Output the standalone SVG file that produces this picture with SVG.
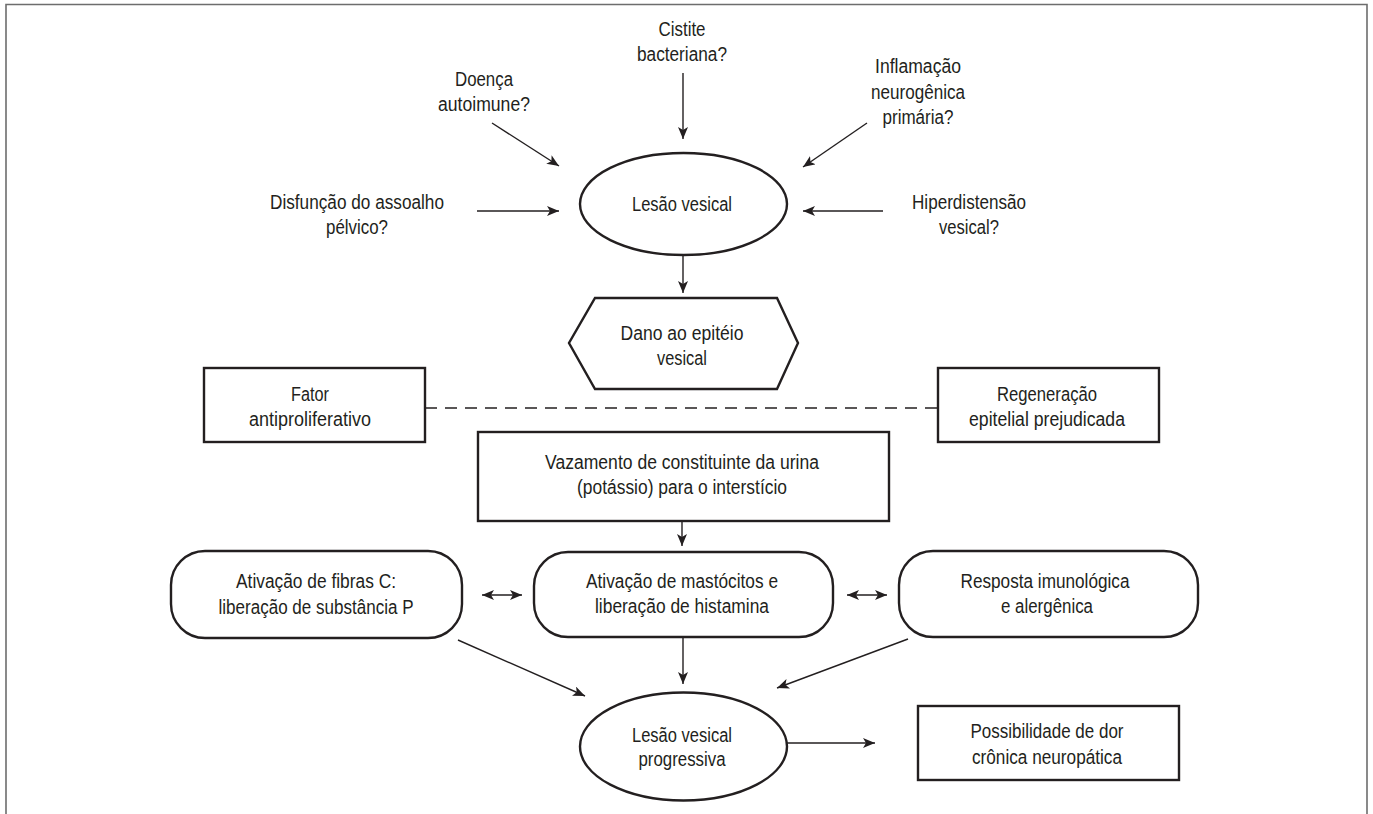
<svg xmlns="http://www.w3.org/2000/svg" width="1373" height="814" viewBox="0 0 1373 814">
<style>
text{font-family:"Liberation Sans",Arial,sans-serif;font-size:20px;fill:#231f20;text-anchor:middle}
.box{fill:#fff;stroke:#231f20;stroke-width:2.4}
.ln{fill:none;stroke:#231f20;stroke-width:1.4}
.dash{fill:none;stroke:#231f20;stroke-width:1.4;stroke-dasharray:12 8}
</style>
<defs>
<marker id="ah" viewBox="0 0 12 10" refX="12" refY="5" markerWidth="12" markerHeight="10" markerUnits="userSpaceOnUse" orient="auto-start-reverse">
<path d="M0,0 L12,5 L0,10 L3,5 z" fill="#231f20"/>
</marker>
</defs>
<rect width="1373" height="814" fill="#fff"/>
<path d="M6,814 V4.5 H1367 V814" fill="none" stroke="#6d6d6d" stroke-width="1.6"/>

<g id="connectors">
<line class="ln" x1="683" y1="73" x2="683" y2="139" marker-end="url(#ah)"/>
<line class="ln" x1="492" y1="123" x2="559" y2="166" marker-end="url(#ah)"/>
<line class="ln" x1="867" y1="123" x2="803" y2="167" marker-end="url(#ah)"/>
<line class="ln" x1="477" y1="211" x2="559" y2="211" marker-end="url(#ah)"/>
<line class="ln" x1="883" y1="211" x2="803" y2="211" marker-end="url(#ah)"/>
<line class="ln" x1="683" y1="255" x2="683" y2="293" marker-end="url(#ah)"/>
<line class="dash" x1="425" y1="408" x2="938" y2="408"/>
<line class="ln" x1="682" y1="521" x2="682" y2="546" marker-end="url(#ah)"/>
<line class="ln" x1="482" y1="595" x2="522" y2="595" marker-start="url(#ah)" marker-end="url(#ah)"/>
<line class="ln" x1="847" y1="595" x2="887" y2="595" marker-start="url(#ah)" marker-end="url(#ah)"/>
<line class="ln" x1="683" y1="637" x2="683" y2="684" marker-end="url(#ah)"/>
<line class="ln" x1="458" y1="640" x2="585" y2="696" marker-end="url(#ah)"/>
<line class="ln" x1="908" y1="639" x2="777" y2="688" marker-end="url(#ah)"/>
<line class="ln" x1="787" y1="743" x2="875" y2="743" marker-end="url(#ah)"/>
</g>

<g id="cistite">
<text x="682" y="36" textLength="47" lengthAdjust="spacingAndGlyphs">Cistite</text>
<text x="682" y="61" textLength="90" lengthAdjust="spacingAndGlyphs">bacteriana?</text>
</g>
<g id="doenca">
<text x="484" y="86" textLength="58" lengthAdjust="spacingAndGlyphs">Doença</text>
<text x="484" y="111" textLength="92" lengthAdjust="spacingAndGlyphs">autoimune?</text>
</g>
<g id="inflamacao">
<text x="918" y="73" textLength="86" lengthAdjust="spacingAndGlyphs">Inflamação</text>
<text x="918" y="99" textLength="94" lengthAdjust="spacingAndGlyphs">neurogênica</text>
<text x="918" y="124" textLength="71" lengthAdjust="spacingAndGlyphs">primária?</text>
</g>
<g id="disfuncao">
<text x="357" y="209" textLength="174" lengthAdjust="spacingAndGlyphs">Disfunção do assoalho</text>
<text x="357" y="234" textLength="62" lengthAdjust="spacingAndGlyphs">pélvico?</text>
</g>
<g id="hiperdistensao">
<text x="969" y="209" textLength="114" lengthAdjust="spacingAndGlyphs">Hiperdistensão</text>
<text x="969" y="234" textLength="60" lengthAdjust="spacingAndGlyphs">vesical?</text>
</g>
<g id="lesao">
<ellipse class="box" cx="683.5" cy="204" rx="103.5" ry="51"/>
<text x="682" y="211" textLength="100" lengthAdjust="spacingAndGlyphs">Lesão vesical</text>
</g>
<g id="dano">
<polygon class="box" points="595,298 777,298 798,343 777,389 595,389 569,343"/>
<text x="682" y="340" textLength="123" lengthAdjust="spacingAndGlyphs">Dano ao epitéio</text>
<text x="682" y="365" textLength="50" lengthAdjust="spacingAndGlyphs">vesical</text>
</g>
<g id="fator">
<rect class="box" x="204" y="368" width="221" height="74"/>
<text x="310" y="401" textLength="38" lengthAdjust="spacingAndGlyphs">Fator</text>
<text x="310" y="426" textLength="122" lengthAdjust="spacingAndGlyphs">antiproliferativo</text>
</g>
<g id="regeneracao">
<rect class="box" x="938" y="368" width="221" height="74"/>
<text x="1047" y="401" textLength="100" lengthAdjust="spacingAndGlyphs">Regeneração</text>
<text x="1047" y="426" textLength="156" lengthAdjust="spacingAndGlyphs">epitelial prejudicada</text>
</g>
<g id="vazamento">
<rect class="box" x="478" y="432" width="411" height="89"/>
<text x="682" y="469" textLength="274" lengthAdjust="spacingAndGlyphs">Vazamento de constituinte da urina</text>
<text x="682" y="494" textLength="210" lengthAdjust="spacingAndGlyphs">(potássio) para o interstício</text>
</g>
<g id="fibras">
<rect class="box" x="171" y="551" width="291" height="87" rx="34"/>
<text x="316" y="588" textLength="160" lengthAdjust="spacingAndGlyphs">Ativação de fibras C:</text>
<text x="316" y="614" textLength="195" lengthAdjust="spacingAndGlyphs">liberação de substância P</text>
</g>
<g id="mastocitos">
<rect class="box" x="534" y="552" width="299" height="85" rx="34"/>
<text x="682" y="588" textLength="192" lengthAdjust="spacingAndGlyphs">Ativação de mastócitos e</text>
<text x="682" y="613" textLength="174" lengthAdjust="spacingAndGlyphs">liberação de histamina</text>
</g>
<g id="resposta">
<rect class="box" x="899" y="551" width="299" height="86" rx="34"/>
<text x="1045" y="588" textLength="169" lengthAdjust="spacingAndGlyphs">Resposta imunológica</text>
<text x="1047" y="613" textLength="92" lengthAdjust="spacingAndGlyphs">e alergênica</text>
</g>
<g id="progressiva">
<ellipse class="box" cx="683.5" cy="746.5" rx="103.5" ry="54"/>
<text x="682" y="742" textLength="100" lengthAdjust="spacingAndGlyphs">Lesão vesical</text>
<text x="682" y="766" textLength="87" lengthAdjust="spacingAndGlyphs">progressiva</text>
</g>
<g id="possibilidade">
<rect class="box" x="918" y="706" width="261" height="74"/>
<text x="1047" y="738" textLength="153" lengthAdjust="spacingAndGlyphs">Possibilidade de dor</text>
<text x="1047" y="764" textLength="150" lengthAdjust="spacingAndGlyphs">crônica neuropática</text>
</g>
</svg>
